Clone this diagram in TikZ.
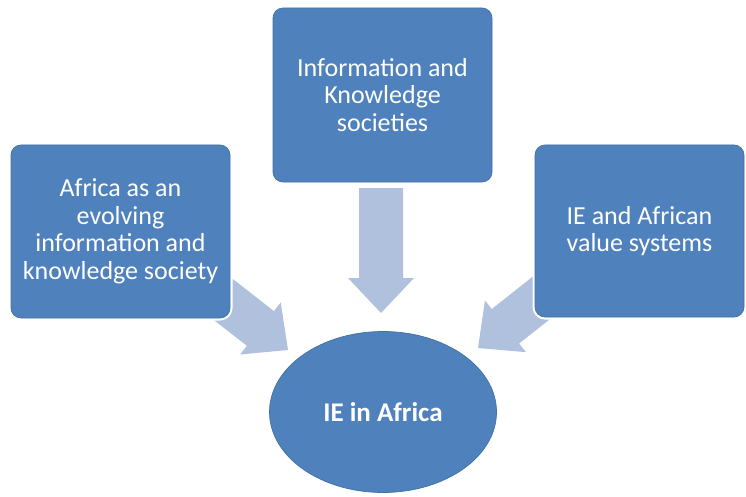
\documentclass[tikz,border=0pt]{standalone}
\usepackage{fontspec}
\setmainfont{Carlito}
\usetikzlibrary{calc,shapes.geometric}
\definecolor{boxblue}{HTML}{4F81BD}
\definecolor{boxline}{HTML}{41719C}
\definecolor{arrowblue}{HTML}{B0C1DE}
\newcommand\blockarrow[2]{%
  \coordinate (H) at ($(#2)!35pt!(#1)$);
  \fill[arrowblue] ($(#1)!22pt!90:(#2)$) -- ($(H)!22pt!90:(#2)$) -- ($(H)!33pt!90:(#2)$)
    -- (#2) -- ($(H)!33pt!-90:(#2)$) -- ($(H)!22pt!-90:(#2)$) -- ($(#1)!22pt!-90:(#2)$) -- cycle;}
\begin{document}
\begin{tikzpicture}[x=1pt,y=-1pt,
  topic/.style={rectangle, rounded corners=10pt, fill=boxblue, draw=boxline, line width=0.7pt,
    preaction={draw=white,line width=5pt}, text=white, align=center,
    font=\fontsize{26}{27.5}\selectfont, inner sep=0pt},
  goal/.style={ellipse, fill=boxblue, draw=boxline, line width=0.7pt, text=white,
    font=\bfseries\fontsize{27}{30}\selectfont, inner sep=0pt}]
\useasboundingbox[fill=white] (0,0) rectangle (746,497);
% arrow end points
\coordinate (tailT) at (381,188);
\coordinate (tipT) at (381,313);
\coordinate (tailL) at (215,293);
\coordinate (tipL) at (288,350);
\coordinate (tailR) at (550,291);
\coordinate (tipR) at (478,348);
\blockarrow{tailT}{tipT}
\blockarrow{tailL}{tipL}
\blockarrow{tailR}{tipR}
% boxes
\node[topic, minimum width=219pt, minimum height=173pt] (left) at (120.5,231.5)
  {Africa as an\\evolving\\information and\\knowledge society};
\node[topic, minimum width=219pt, minimum height=174pt] (top) at (382.5,95)
  {Information and\\Knowledge\\societies};
\node[topic, minimum width=209pt, minimum height=172pt] (right) at (639.5,231)
  {IE and African\\value systems};
\node[goal, minimum width=227pt, minimum height=161pt] (ie) at (383,412) {IE in Africa};
\end{tikzpicture}
\end{document}
